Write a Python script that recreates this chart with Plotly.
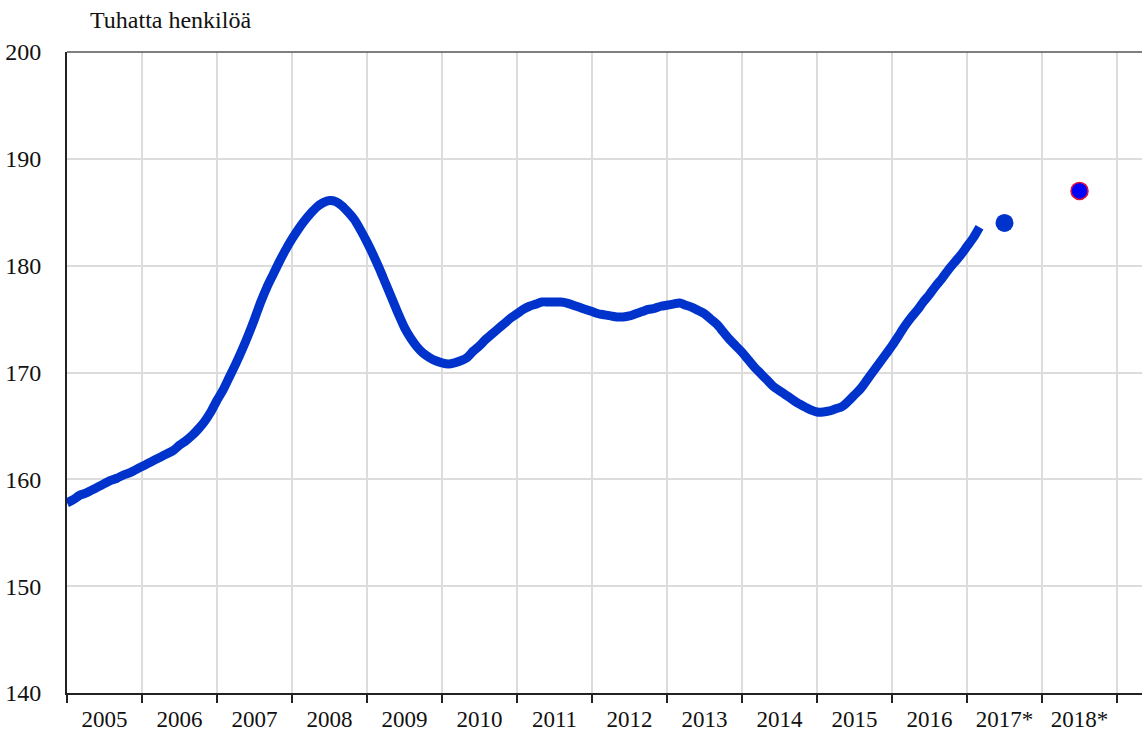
import plotly.graph_objects as go

# Monthly values, thousands of persons (Jan 2005 .. Mar 2017)
years = list(range(2005, 2018))
v2005 = [157.8, 158.1, 158.5, 158.7, 159.0, 159.3, 159.6, 159.9, 160.1, 160.4, 160.6, 160.9]
v2006 = [161.2, 161.5, 161.8, 162.1, 162.4, 162.7, 163.2, 163.6, 164.1, 164.7, 165.4, 166.3]
v2007 = [167.4, 168.4, 169.6, 170.8, 172.1, 173.5, 175.0, 176.6, 178.0, 179.2, 180.4, 181.5]
v2008 = [182.5, 183.4, 184.2, 184.9, 185.5, 185.9, 186.1, 186.0, 185.6, 185.0, 184.3, 183.3]
v2009 = [182.2, 181.0, 179.7, 178.3, 176.9, 175.5, 174.2, 173.2, 172.4, 171.8, 171.4, 171.1]
v2010 = [170.9, 170.8, 170.9, 171.1, 171.4, 172.0, 172.5, 173.1, 173.6, 174.1, 174.6, 175.1]
v2011 = [175.5, 175.9, 176.2, 176.4, 176.6, 176.6, 176.6, 176.6, 176.5, 176.3, 176.1, 175.9]
v2012 = [175.7, 175.5, 175.4, 175.3, 175.2, 175.2, 175.3, 175.5, 175.7, 175.9, 176.0, 176.2]
v2013 = [176.3, 176.4, 176.5, 176.3, 176.1, 175.8, 175.5, 175.0, 174.5, 173.8, 173.1, 172.5]
v2014 = [171.9, 171.2, 170.5, 169.9, 169.3, 168.7, 168.3, 167.9, 167.5, 167.1, 166.8, 166.5]
v2015 = [166.3, 166.3, 166.4, 166.6, 166.8, 167.3, 167.9, 168.5, 169.3, 170.1, 170.9, 171.7]
v2016 = [172.5, 173.4, 174.3, 175.1, 175.8, 176.6, 177.3, 178.1, 178.8, 179.6, 180.3, 181.0]
v2017 = [181.8, 182.6, 183.6]
monthly = [v2005, v2006, v2007, v2008, v2009, v2010, v2011, v2012, v2013, v2014, v2015, v2016, v2017]

# Forecast points
forecast_years = [2017, 2018]
forecast_values = [184.0, 187.0]

# Axis labels
year_labels = ["2005", "2006", "2007", "2008", "2009", "2010", "2011", "2012",
               "2013", "2014", "2015", "2016", "2017*", "2018*"]
y_ticks = [140, 150, 160, 170, 180, 190, 200]
unit_title = "Tuhatta henkilöä"

xs, ys = [], []
for yr, vals in zip(years, monthly):
    for m, v in enumerate(vals):
        xs.append(yr + m / 12)
        ys.append(v)

fig = go.Figure()
fig.add_trace(go.Scatter(
    x=xs, y=ys, mode="lines",
    line=dict(color="#0033cc", width=9, shape="spline", smoothing=0.8),
    hoverinfo="skip", showlegend=False,
))
fig.add_trace(go.Scatter(
    x=[forecast_years[0] + 0.5], y=[forecast_values[0]], mode="markers",
    marker=dict(color="#0033cc", size=18, line=dict(width=0)),
    showlegend=False,
))
fig.add_trace(go.Scatter(
    x=[forecast_years[1] + 0.5], y=[forecast_values[1]], mode="markers",
    marker=dict(color="#0000ff", size=17, line=dict(color="#e0103a", width=1.5)),
    showlegend=False,
))

label_years = list(range(2005, 2005 + len(year_labels)))
font_family = "Liberation Serif, Times New Roman, serif"

fig.update_layout(
    width=1142, height=736,
    margin=dict(l=67, r=0, t=52, b=43, autoexpand=False),
    paper_bgcolor="white", plot_bgcolor="white",
    font=dict(family=font_family, size=23, color="#111111"),
    xaxis=dict(
        range=[2005, 2005 + 1075 / 75],
        tickvals=[y + 0.5 for y in label_years],
        ticktext=year_labels,
        ticks="", showgrid=False,
        ticklabelstandoff=4,
        automargin=False,
        showline=True, linecolor="#222222", linewidth=2,
        zeroline=False,
        minor=dict(
            tickvals=list(range(2005, 2005 + len(year_labels) + 1)),
            ticks="outside", ticklen=8, tickwidth=1.5, tickcolor="#222222",
            showgrid=True, gridcolor="#dcdcdc", gridwidth=1.5,
        ),
        tickfont=dict(family=font_family, size=23, color="#111111"),
    ),
    yaxis=dict(
        range=[140, 200],
        tickvals=y_ticks,
        ticks="",
        ticklabelstandoff=19,
        automargin=False,
        showgrid=True, gridcolor="#dcdcdc", gridwidth=1.5,
        showline=True, linecolor="#222222", linewidth=2,
        zeroline=False,
        tickfont=dict(family=font_family, size=24, color="#111111"),
    ),
    annotations=[dict(
        text=unit_title, xref="paper", yref="paper",
        x=(88 - 67) / 1075, y=1 + (52 - 20) / 641,
        xanchor="left", yanchor="middle", showarrow=False,
        font=dict(family=font_family, size=24, color="#111111"),
    )],
    shapes=[dict(type="line", xref="paper", yref="paper", x0=0, x1=1, y0=1, y1=1,
                 line=dict(color="#555555", width=1.5))],
)

fig.write_html(
    "out.html",
    config={"displayModeBar": False},
    post_script="document.body.style.margin='0';document.body.style.overflow='hidden';",
)
